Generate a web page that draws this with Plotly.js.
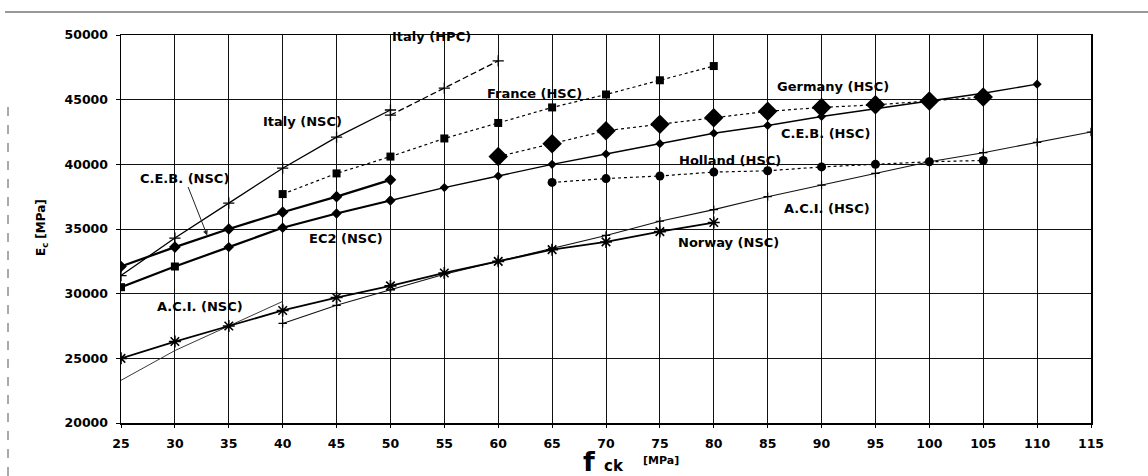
<!DOCTYPE html>
<html>
<head>
<meta charset="utf-8">
<script src="https://cdn.plot.ly/plotly-3.0.1.min.js"></script>
<style>html,body{margin:0;padding:0;background:#fff;}#chart{width:1148px;height:476px;}</style>
</head>
<body>
<div id="chart"></div>
<script>
// ---- data (fck in MPa, Ec in MPa) ----
const italyNscX = [25, 30, 35, 40, 45, 50];
const italyNscY = [31400, 34300, 37000, 39700, 42100, 44200];
const italyHpcX = [50, 55, 60];
const italyHpcY = [43800, 45900, 48000];
const franceX = [40, 45, 50, 55, 60, 65, 70, 75, 80];
const franceY = [37700, 39300, 40600, 42000, 43200, 44400, 45400, 46500, 47600];
const germanyX = [60, 65, 70, 75, 80, 85, 90, 95, 100, 105];
const germanyY = [40600, 41600, 42600, 43100, 43600, 44100, 44400, 44600, 44900, 45200];
const hollandX = [65, 70, 75, 80, 85, 90, 95, 100, 105];
const hollandY = [38600, 38900, 39100, 39400, 39500, 39800, 40000, 40200, 40300];
const cebNscX = [25, 30, 35, 40, 45, 50];
const cebNscY = [32100, 33600, 35000, 36300, 37500, 38800];
const ec2NscX = [25, 30, 35, 40, 45, 50];
const ec2NscY = [30500, 32100, 33600, 35100, 36200, 37200];
const cebHscX = [50, 55, 60, 65, 70, 75, 80, 85, 90, 95, 100, 105, 110];
const cebHscY = [37200, 38200, 39100, 40000, 40800, 41600, 42400, 43000, 43700, 44300, 44900, 45500, 46200];
const aciHscX = [40, 45, 50, 55, 60, 65, 70, 75, 80, 85, 90, 95, 100, 105, 110, 115];
const aciHscY = [27700, 29100, 30300, 31500, 32500, 33500, 34500, 35600, 36500, 37500, 38400, 39300, 40200, 40900, 41700, 42500];
const aciNscX = [25, 30, 35, 40];
const aciNscY = [23300, 25600, 27500, 29400];
const norwayX = [25, 30, 35, 40, 45, 50, 55, 60, 65, 70, 75, 80];
const norwayY = [25000, 26300, 27500, 28700, 29700, 30600, 31600, 32500, 33400, 34000, 34800, 35500];

const xTicks = [25, 30, 35, 40, 45, 50, 55, 60, 65, 70, 75, 80, 85, 90, 95, 100, 105, 110, 115];
const yTicks = [20000, 25000, 30000, 35000, 40000, 45000, 50000];

// label texts and anchor positions (data coords)
const labelText = ['Italy (HPC)', 'Italy (NSC)', 'France (HSC)', 'Germany (HSC)', 'C.E.B. (HSC)', 'Holland (HSC)',
                   'EC2 (NSC)', 'A.C.I. (HSC)', 'Norway (NSC)', 'A.C.I. (NSC)'];
const labelX = [53.8, 41.8, 63.4, 91.1, 90.4, 81.5, 45.9, 90.5, 81.4, 32.3];
const labelY = [49900, 43350, 45440, 45980, 42350, 40260, 34230, 36620, 33920, 28970];

const K = '#000';
const FF = 'DejaVu Sans, Verdana, sans-serif';
const traces = [
  {x: aciNscX, y: aciNscY, mode: 'lines', line: {color: '#222', width: 0.9}},
  {x: aciHscX, y: aciHscY, mode: 'lines+markers', line: {color: '#111', width: 1.1},
   marker: {symbol: 'cross-thin', size: 6, line: {color: K, width: 1.2}}},
  {x: norwayX, y: norwayY, mode: 'lines+markers', line: {color: K, width: 1.8},
   marker: {symbol: 'asterisk-open', size: 10, line: {color: K, width: 1.6}}},
  {x: italyNscX, y: italyNscY, mode: 'lines+markers', line: {color: K, width: 1.3},
   marker: {symbol: 'cross-thin', size: 8, line: {color: K, width: 1.3}}},
  {x: italyHpcX, y: italyHpcY, mode: 'lines+markers', line: {color: K, width: 1.3, dash: '6px,3px'},
   marker: {symbol: 'cross-thin', size: 8, line: {color: K, width: 1.3}}},
  {x: cebNscX, y: cebNscY, mode: 'lines+markers', line: {color: K, width: 2.2},
   marker: {symbol: 'diamond', size: 9, color: K}},
  {x: ec2NscX, y: ec2NscY, mode: 'lines+markers', line: {color: K, width: 2.2},
   marker: {symbol: ['square', 'square', 'diamond', 'diamond', 'diamond', 'diamond'], size: 8, color: K}},
  {x: cebHscX, y: cebHscY, mode: 'lines+markers', line: {color: K, width: 1.4},
   marker: {symbol: 'diamond', size: 7, color: K}},
  {x: franceX, y: franceY, mode: 'lines+markers', line: {color: K, width: 1.2, dash: 'dot'},
   marker: {symbol: 'square', size: 8, color: K}},
  {x: germanyX, y: germanyY, mode: 'lines+markers', line: {color: K, width: 1.2, dash: 'dot'},
   marker: {symbol: 'diamond', size: 15, color: K}},
  {x: hollandX, y: hollandY, mode: 'lines+markers', line: {color: K, width: 1.2, dash: 'dot'},
   marker: {symbol: 'circle', size: 9, color: K}}
];
traces.forEach(t => { t.showlegend = false; t.hoverinfo = 'x+y'; });

const lblFont = {family: FF, size: 13, color: K, weight: 'bold'};
const annotations = labelText.map((t, i) => ({
  x: labelX[i], y: labelY[i], xref: 'x', yref: 'y', text: t,
  showarrow: false, xanchor: 'center', yanchor: 'middle', font: lblFont
}));
annotations.push({
  x: 33, y: 34500, xref: 'x', yref: 'y', ax: 30.9, ay: 38940, axref: 'x', ayref: 'y',
  text: 'C.E.B. (NSC)', showarrow: true, arrowhead: 2, arrowsize: 1, arrowwidth: 1,
  arrowcolor: '#222', font: lblFont
});
// x-axis title pieces (pixel positions converted to paper coords)
const px = v => (v - 121) / (1148 - 121 - 57);
const py = v => (476 - 53 - v) / (476 - 35 - 53);
annotations.push({x: px(589), y: py(461), xref: 'paper', yref: 'paper', xanchor: 'center', yanchor: 'middle',
  text: 'f', showarrow: false, font: {family: FF, size: 27, color: K, weight: 'bold'}});
annotations.push({x: px(614), y: py(466), xref: 'paper', yref: 'paper', xanchor: 'center', yanchor: 'middle',
  text: 'ck', showarrow: false, font: {family: FF, size: 15, color: K, weight: 'bold'}});
annotations.push({x: px(661), y: py(460), xref: 'paper', yref: 'paper', xanchor: 'center', yanchor: 'middle',
  text: '[MPa]', showarrow: false, font: {family: FF, size: 11, color: K, weight: 'bold'}});
// y-axis title
annotations.push({x: px(42), y: py(228), xref: 'paper', yref: 'paper', xanchor: 'center', yanchor: 'middle',
  text: 'E<sub>c</sub> [MPa]', textangle: -90, showarrow: false,
  font: {family: FF, size: 12, color: K, weight: 'bold'}});

const tickFont = {family: FF, size: 12.5, color: K, weight: 'bold'};
const layout = {
  width: 1148, height: 476,
  margin: {l: 121, r: 57, t: 35, b: 53},
  paper_bgcolor: '#fff', plot_bgcolor: '#fff',
  showlegend: false,
  font: {family: FF, color: K},
  xaxis: {
    range: [25, 115], tickvals: xTicks, ticktext: xTicks.map(String),
    showgrid: true, gridcolor: '#111', gridwidth: 1,
    showline: true, linecolor: K, linewidth: 1.5, mirror: true,
    ticks: 'outside', ticklen: 3, tickcolor: K, ticklabelstandoff: 5,
    tickfont: tickFont, zeroline: false
  },
  yaxis: {
    range: [20000, 50000], tickvals: yTicks, ticktext: yTicks.map(String),
    showgrid: true, gridcolor: '#111', gridwidth: 1,
    showline: true, linecolor: K, linewidth: 1.5, mirror: true,
    ticks: 'outside', ticklen: 4, tickcolor: K, ticklabelstandoff: 5,
    tickfont: tickFont, zeroline: false
  },
  annotations: annotations,
  shapes: [
    {type: 'line', xref: 'paper', yref: 'paper', x0: px(5), x1: px(1148), y0: py(12), y1: py(12),
     line: {color: '#333', width: 1}},
    {type: 'line', xref: 'paper', yref: 'paper', x0: px(8), x1: px(8), y0: py(476), y1: py(100),
     line: {color: '#555', width: 1, dash: 'dash'}}
  ]
};

Plotly.newPlot('chart', traces, layout, {displayModeBar: false, staticPlot: true});
</script>
</body>
</html>
